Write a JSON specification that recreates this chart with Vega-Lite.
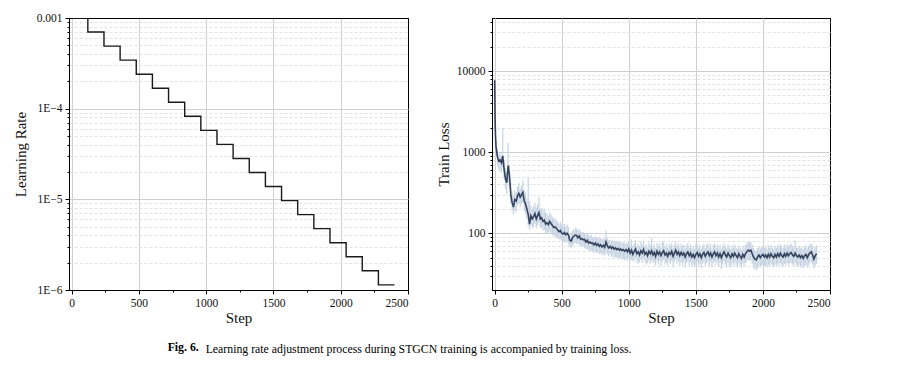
{
  "$schema": "https://vega.github.io/schema/vega-lite/v6.json",
  "background": "white",
  "padding": {"left": 12, "top": 11, "right": 5, "bottom": 5},
  "config": {
    "font": "Liberation Serif",
    "view": {"stroke": "black", "strokeWidth": 1},
    "axis": {
      "labelFont": "Liberation Serif", "labelFontSize": 11.5, "labelColor": "#111111",
      "titleFont": "Liberation Serif", "titleFontSize": 15, "titleFontWeight": "normal", "titleColor": "#111111",
      "domainColor": "black", "tickColor": "black", "gridColor": "#cfcfcf", "gridWidth": 1,
      "tickSize": 4, "labelPadding": 3
    }
  },
  "datasets": {
    "lr": [
      {"s": 0, "v": 0.001},
      {"s": 120, "v": 0.0007},
      {"s": 240, "v": 0.00049},
      {"s": 360, "v": 0.000343},
      {"s": 480, "v": 0.0002401},
      {"s": 600, "v": 0.00016807},
      {"s": 720, "v": 0.000117649},
      {"s": 840, "v": 0.0000823543},
      {"s": 960, "v": 0.000057648},
      {"s": 1080, "v": 0.0000403536},
      {"s": 1200, "v": 0.0000282475},
      {"s": 1320, "v": 0.0000197733},
      {"s": 1440, "v": 0.0000138413},
      {"s": 1560, "v": 0.00000968890},
      {"s": 1680, "v": 0.00000678223},
      {"s": 1800, "v": 0.00000474756},
      {"s": 1920, "v": 0.00000332329},
      {"s": 2040, "v": 0.00000232630},
      {"s": 2160, "v": 0.00000162841},
      {"s": 2280, "v": 0.00000113989},
      {"s": 2400, "v": 0.00000113989}
    ],
    "loss": [
      {"s":0,"v":7700,"lo":5000,"hi":8000},
      {"s":3,"v":2600,"lo":1800,"hi":3200},
      {"s":6,"v":1600,"lo":1200,"hi":2000},
      {"s":10,"v":1150,"lo":900,"hi":1400},
      {"s":20,"v":880,"lo":700,"hi":1100},
      {"s":30,"v":780,"lo":620,"hi":950},
      {"s":40,"v":800,"lo":580,"hi":1000},
      {"s":50,"v":740,"lo":560,"hi":900},
      {"s":60,"v":900,"lo":650,"hi":2000},
      {"s":70,"v":620,"lo":480,"hi":800},
      {"s":80,"v":470,"lo":350,"hi":640},
      {"s":90,"v":420,"lo":300,"hi":560},
      {"s":100,"v":680,"lo":420,"hi":1300},
      {"s":110,"v":520,"lo":380,"hi":700},
      {"s":120,"v":300,"lo":230,"hi":420},
      {"s":130,"v":240,"lo":190,"hi":330},
      {"s":140,"v":210,"lo":170,"hi":290},
      {"s":150,"v":260,"lo":190,"hi":340},
      {"s":160,"v":250,"lo":180,"hi":320},
      {"s":170,"v":290,"lo":220,"hi":380},
      {"s":180,"v":310,"lo":230,"hi":420},
      {"s":190,"v":280,"lo":210,"hi":360},
      {"s":200,"v":300,"lo":230,"hi":390},
      {"s":210,"v":320,"lo":240,"hi":450},
      {"s":220,"v":250,"lo":190,"hi":340},
      {"s":230,"v":230,"lo":170,"hi":320},
      {"s":240,"v":200,"lo":150,"hi":270},
      {"s":250,"v":170,"lo":120,"hi":490},
      {"s":260,"v":130,"lo":110,"hi":250},
      {"s":270,"v":165,"lo":125,"hi":220},
      {"s":280,"v":150,"lo":115,"hi":200},
      {"s":290,"v":160,"lo":120,"hi":215},
      {"s":300,"v":175,"lo":130,"hi":240},
      {"s":310,"v":150,"lo":115,"hi":210},
      {"s":320,"v":165,"lo":125,"hi":230},
      {"s":330,"v":180,"lo":135,"hi":280},
      {"s":340,"v":150,"lo":115,"hi":200},
      {"s":350,"v":155,"lo":118,"hi":205},
      {"s":360,"v":140,"lo":108,"hi":190},
      {"s":370,"v":145,"lo":110,"hi":200},
      {"s":380,"v":130,"lo":100,"hi":180},
      {"s":390,"v":135,"lo":102,"hi":175},
      {"s":400,"v":128,"lo":98,"hi":165},
      {"s":410,"v":140,"lo":105,"hi":180},
      {"s":420,"v":132,"lo":100,"hi":170},
      {"s":430,"v":125,"lo":95,"hi":160},
      {"s":440,"v":118,"lo":92,"hi":150},
      {"s":450,"v":120,"lo":92,"hi":155},
      {"s":460,"v":115,"lo":88,"hi":145},
      {"s":470,"v":110,"lo":86,"hi":140},
      {"s":480,"v":105,"lo":84,"hi":132},
      {"s":490,"v":108,"lo":85,"hi":138},
      {"s":500,"v":100,"lo":80,"hi":128},
      {"s":510,"v":98,"lo":78,"hi":122},
      {"s":520,"v":102,"lo":80,"hi":130},
      {"s":530,"v":96,"lo":76,"hi":120},
      {"s":540,"v":100,"lo":78,"hi":128},
      {"s":550,"v":95,"lo":74,"hi":120},
      {"s":560,"v":82,"lo":68,"hi":100},
      {"s":570,"v":80,"lo":66,"hi":98},
      {"s":580,"v":88,"lo":70,"hi":108},
      {"s":590,"v":92,"lo":74,"hi":112},
      {"s":600,"v":95,"lo":76,"hi":118},
      {"s":610,"v":94,"lo":75,"hi":115},
      {"s":620,"v":88,"lo":72,"hi":110},
      {"s":630,"v":93,"lo":73,"hi":112},
      {"s":640,"v":85,"lo":70,"hi":105},
      {"s":650,"v":86,"lo":68,"hi":102},
      {"s":660,"v":83,"lo":69,"hi":104},
      {"s":670,"v":84,"lo":66,"hi":100},
      {"s":680,"v":78,"lo":64,"hi":97},
      {"s":690,"v":82,"lo":64,"hi":98},
      {"s":700,"v":76,"lo":62,"hi":95},
      {"s":710,"v":78,"lo":61,"hi":93},
      {"s":720,"v":75,"lo":60,"hi":96},
      {"s":730,"v":76,"lo":60,"hi":90},
      {"s":740,"v":72,"lo":57,"hi":89},
      {"s":750,"v":76,"lo":60,"hi":92},
      {"s":760,"v":71,"lo":57,"hi":88},
      {"s":770,"v":74,"lo":58,"hi":90},
      {"s":780,"v":69,"lo":55,"hi":86},
      {"s":790,"v":72,"lo":57,"hi":87},
      {"s":800,"v":68,"lo":54,"hi":85},
      {"s":810,"v":71,"lo":56,"hi":86},
      {"s":820,"v":67,"lo":53,"hi":84},
      {"s":830,"v":78,"lo":58,"hi":108},
      {"s":840,"v":70,"lo":55,"hi":88},
      {"s":850,"v":66,"lo":52,"hi":82},
      {"s":860,"v":69,"lo":55,"hi":84},
      {"s":870,"v":65,"lo":51,"hi":81},
      {"s":880,"v":68,"lo":54,"hi":82},
      {"s":890,"v":64,"lo":50,"hi":80},
      {"s":900,"v":66,"lo":51,"hi":79},
      {"s":910,"v":63,"lo":50,"hi":81},
      {"s":920,"v":65,"lo":50,"hi":78},
      {"s":930,"v":62,"lo":48,"hi":79},
      {"s":940,"v":64,"lo":50,"hi":77},
      {"s":950,"v":61,"lo":47,"hi":78},
      {"s":960,"v":63,"lo":49,"hi":76},
      {"s":970,"v":60,"lo":46,"hi":77},
      {"s":980,"v":63,"lo":48,"hi":75},
      {"s":990,"v":59,"lo":46,"hi":76},
      {"s":1000,"v":64,"lo":50,"hi":80},
      {"s":1010,"v":57,"lo":46,"hi":72},
      {"s":1020,"v":62,"lo":47,"hi":84},
      {"s":1030,"v":55,"lo":45,"hi":70},
      {"s":1040,"v":60,"lo":46,"hi":76},
      {"s":1050,"v":64,"lo":50,"hi":82},
      {"s":1060,"v":56,"lo":44,"hi":70},
      {"s":1070,"v":59,"lo":42,"hi":74},
      {"s":1080,"v":54,"lo":44,"hi":68},
      {"s":1090,"v":61,"lo":47,"hi":79},
      {"s":1100,"v":57,"lo":43,"hi":72},
      {"s":1110,"v":63,"lo":49,"hi":80},
      {"s":1120,"v":55,"lo":44,"hi":69},
      {"s":1130,"v":58,"lo":41,"hi":73},
      {"s":1140,"v":53,"lo":43,"hi":67},
      {"s":1150,"v":60,"lo":46,"hi":77},
      {"s":1160,"v":56,"lo":42,"hi":71},
      {"s":1170,"v":61,"lo":47,"hi":88},
      {"s":1180,"v":54,"lo":43,"hi":68},
      {"s":1190,"v":58,"lo":44,"hi":73},
      {"s":1200,"v":52,"lo":40,"hi":66},
      {"s":1210,"v":60,"lo":46,"hi":76},
      {"s":1220,"v":55,"lo":41,"hi":70},
      {"s":1230,"v":59,"lo":46,"hi":75},
      {"s":1240,"v":53,"lo":39,"hi":67},
      {"s":1250,"v":58,"lo":45,"hi":80},
      {"s":1260,"v":61,"lo":47,"hi":77},
      {"s":1270,"v":54,"lo":41,"hi":68},
      {"s":1280,"v":57,"lo":43,"hi":73},
      {"s":1290,"v":52,"lo":40,"hi":66},
      {"s":1300,"v":58,"lo":45,"hi":74},
      {"s":1310,"v":55,"lo":42,"hi":70},
      {"s":1320,"v":60,"lo":46,"hi":76},
      {"s":1330,"v":52,"lo":38,"hi":66},
      {"s":1340,"v":57,"lo":44,"hi":72},
      {"s":1350,"v":62,"lo":47,"hi":79},
      {"s":1360,"v":55,"lo":42,"hi":70},
      {"s":1370,"v":59,"lo":45,"hi":75},
      {"s":1380,"v":53,"lo":40,"hi":67},
      {"s":1390,"v":58,"lo":44,"hi":74},
      {"s":1400,"v":54,"lo":40,"hi":69},
      {"s":1410,"v":57,"lo":44,"hi":72},
      {"s":1420,"v":51,"lo":38,"hi":65},
      {"s":1430,"v":56,"lo":43,"hi":71},
      {"s":1440,"v":59,"lo":45,"hi":76},
      {"s":1450,"v":53,"lo":40,"hi":67},
      {"s":1460,"v":57,"lo":44,"hi":72},
      {"s":1470,"v":51,"lo":39,"hi":65},
      {"s":1480,"v":55,"lo":42,"hi":70},
      {"s":1490,"v":50,"lo":38,"hi":64},
      {"s":1500,"v":55,"lo":41,"hi":74},
      {"s":1510,"v":58,"lo":44,"hi":73},
      {"s":1520,"v":52,"lo":40,"hi":66},
      {"s":1530,"v":56,"lo":42,"hi":71},
      {"s":1540,"v":50,"lo":37,"hi":64},
      {"s":1550,"v":55,"lo":42,"hi":70},
      {"s":1560,"v":58,"lo":44,"hi":74},
      {"s":1570,"v":52,"lo":40,"hi":66},
      {"s":1580,"v":56,"lo":43,"hi":72},
      {"s":1590,"v":59,"lo":45,"hi":76},
      {"s":1600,"v":53,"lo":39,"hi":67},
      {"s":1610,"v":57,"lo":44,"hi":73},
      {"s":1620,"v":51,"lo":38,"hi":65},
      {"s":1630,"v":56,"lo":43,"hi":71},
      {"s":1640,"v":59,"lo":45,"hi":75},
      {"s":1650,"v":53,"lo":40,"hi":67},
      {"s":1660,"v":57,"lo":44,"hi":72},
      {"s":1670,"v":51,"lo":39,"hi":65},
      {"s":1680,"v":56,"lo":43,"hi":72},
      {"s":1690,"v":50,"lo":36,"hi":64},
      {"s":1700,"v":55,"lo":41,"hi":70},
      {"s":1710,"v":59,"lo":45,"hi":75},
      {"s":1720,"v":54,"lo":41,"hi":69},
      {"s":1730,"v":51,"lo":38,"hi":65},
      {"s":1740,"v":57,"lo":44,"hi":73},
      {"s":1750,"v":53,"lo":40,"hi":67},
      {"s":1760,"v":50,"lo":38,"hi":64},
      {"s":1770,"v":56,"lo":43,"hi":71},
      {"s":1780,"v":52,"lo":40,"hi":66},
      {"s":1790,"v":57,"lo":44,"hi":73},
      {"s":1800,"v":53,"lo":40,"hi":67},
      {"s":1810,"v":50,"lo":38,"hi":64},
      {"s":1820,"v":56,"lo":42,"hi":71},
      {"s":1830,"v":52,"lo":40,"hi":67},
      {"s":1840,"v":49,"lo":37,"hi":63},
      {"s":1850,"v":55,"lo":42,"hi":70},
      {"s":1860,"v":51,"lo":39,"hi":65},
      {"s":1870,"v":56,"lo":43,"hi":72},
      {"s":1880,"v":59,"lo":45,"hi":75},
      {"s":1890,"v":62,"lo":47,"hi":79},
      {"s":1900,"v":60,"lo":46,"hi":77},
      {"s":1910,"v":62,"lo":46,"hi":78},
      {"s":1920,"v":56,"lo":42,"hi":72},
      {"s":1930,"v":51,"lo":38,"hi":66},
      {"s":1940,"v":48,"lo":36,"hi":62},
      {"s":1950,"v":47,"lo":35,"hi":61},
      {"s":1960,"v":51,"lo":37,"hi":66},
      {"s":1970,"v":54,"lo":40,"hi":69},
      {"s":1980,"v":50,"lo":38,"hi":65},
      {"s":1990,"v":53,"lo":40,"hi":68},
      {"s":2000,"v":55,"lo":41,"hi":70},
      {"s":2010,"v":51,"lo":39,"hi":66},
      {"s":2020,"v":54,"lo":40,"hi":69},
      {"s":2030,"v":50,"lo":38,"hi":64},
      {"s":2040,"v":55,"lo":41,"hi":71},
      {"s":2050,"v":51,"lo":39,"hi":66},
      {"s":2060,"v":56,"lo":42,"hi":72},
      {"s":2070,"v":52,"lo":40,"hi":67},
      {"s":2080,"v":50,"lo":38,"hi":64},
      {"s":2090,"v":55,"lo":41,"hi":70},
      {"s":2100,"v":51,"lo":39,"hi":66},
      {"s":2110,"v":56,"lo":42,"hi":72},
      {"s":2120,"v":52,"lo":40,"hi":67},
      {"s":2130,"v":57,"lo":43,"hi":74},
      {"s":2140,"v":53,"lo":40,"hi":69},
      {"s":2150,"v":51,"lo":39,"hi":66},
      {"s":2160,"v":56,"lo":42,"hi":72},
      {"s":2170,"v":52,"lo":40,"hi":67},
      {"s":2180,"v":57,"lo":43,"hi":73},
      {"s":2190,"v":53,"lo":40,"hi":68},
      {"s":2200,"v":56,"lo":42,"hi":72},
      {"s":2210,"v":58,"lo":43,"hi":75},
      {"s":2220,"v":54,"lo":41,"hi":69},
      {"s":2230,"v":52,"lo":40,"hi":67},
      {"s":2240,"v":57,"lo":43,"hi":82},
      {"s":2250,"v":53,"lo":40,"hi":68},
      {"s":2260,"v":51,"lo":39,"hi":66},
      {"s":2270,"v":54,"lo":41,"hi":69},
      {"s":2280,"v":50,"lo":38,"hi":65},
      {"s":2290,"v":53,"lo":40,"hi":68},
      {"s":2300,"v":49,"lo":37,"hi":63},
      {"s":2310,"v":53,"lo":40,"hi":68},
      {"s":2320,"v":55,"lo":41,"hi":71},
      {"s":2330,"v":50,"lo":38,"hi":65},
      {"s":2340,"v":54,"lo":40,"hi":69},
      {"s":2350,"v":57,"lo":43,"hi":73},
      {"s":2360,"v":59,"lo":44,"hi":75},
      {"s":2370,"v":54,"lo":41,"hi":70},
      {"s":2380,"v":48,"lo":37,"hi":63},
      {"s":2390,"v":53,"lo":40,"hi":68},
      {"s":2400,"v":56,"lo":42,"hi":71}
    ]
  },
  "title": {"text": "Fig. 6.", "orient": "bottom", "anchor": "start", "fontWeight": "bold", "fontSize": 11.8, "font": "Liberation Serif", "color": "black", "offset": -14, "dx": 155},
  "vconcat": [
    {
      "title": {"text": "Learning rate adjustment process during STGCN training is accompanied by training loss.", "orient": "bottom", "anchor": "start", "fontWeight": "normal", "fontSize": 11.8, "font": "Liberation Serif", "color": "black", "offset": 18, "dx": 193},
      "spacing": 84,
      "bounds": "flush",
      "hconcat": [
        {
          "width": 339, "height": 272,
          "data": {"name": "lr"},
          "layer": [
            {
              "mark": {"type": "line", "interpolate": "step-after", "color": "#1a1a1a", "strokeWidth": 1.4, "clip": true},
              "encoding": {
                "x": {"field": "s", "type": "quantitative", "scale": {"domain": [-20, 2500], "nice": false, "zero": false},
                      "axis": {"values": [0, 500, 1000, 1500, 2000, 2500], "format": "d", "title": "Step", "grid": true, "titlePadding": 2, "orient": "bottom",
                               "gridColor": {"condition": {"test": "datum.value >= 2500", "value": "black"}, "value": "#cfcfcf"}}},
                "y": {"field": "v", "type": "quantitative", "scale": {"type": "log", "domain": [0.000001, 0.001], "nice": false},
                      "axis": {"values": [0.000001, 0.00001, 0.0001, 0.001], "title": "Learning Rate", "grid": true, "titlePadding": 8, "orient": "left",
                               "gridColor": {"condition": {"test": "datum.value >= 0.0009 || datum.value <= 0.0000011", "value": "black"}, "value": "#cfcfcf"},
                               "labelExpr": "datum.value < 0.000002 ? '1E\u22126' : datum.value < 0.00002 ? '1E\u22125' : datum.value < 0.0002 ? '1E\u22124' : '0.001'"}}
              }
            },
            {
              "mark": {"type": "point", "opacity": 0},
              "encoding": {
                "x": {"field": "s", "type": "quantitative", "scale": {"domain": [-20, 2500], "nice": false, "zero": false},
                      "axis": {"values": [250, 750, 1250, 1750, 2250], "labels": false, "grid": false, "domain": false, "tickSize": 2, "title": null, "orient": "bottom"}},
                "y": {"field": "v", "type": "quantitative", "scale": {"type": "log", "domain": [0.000001, 0.001], "nice": false},
                      "axis": {"values": [0.000002, 0.000003, 0.000004, 0.000005, 0.000006, 0.000007, 0.000008, 0.000009, 0.00002, 0.00003, 0.00004, 0.00005, 0.00006, 0.00007, 0.00008, 0.00009, 0.0002, 0.0003, 0.0004, 0.0005, 0.0006, 0.0007, 0.0008, 0.0009],
                               "labels": false, "grid": true, "gridDash": [3, 2], "gridColor": "#e2e2e2", "domain": false, "tickSize": 2, "title": null, "orient": "left"}}
              }
            }
          ],
          "resolve": {"axis": {"x": "independent", "y": "independent"}}
        },
        {
          "width": 338, "height": 272,
          "data": {"name": "loss"},
          "layer": [
            {
              "mark": {"type": "rule", "color": "#c6d3e2", "strokeWidth": 1.2, "clip": true},
              "encoding": {
                "x": {"field": "s", "type": "quantitative", "scale": {"domain": [-20, 2500], "nice": false, "zero": false},
                      "axis": {"values": [0, 500, 1000, 1500, 2000, 2500], "format": "d", "title": "Step", "grid": true, "titlePadding": 2, "orient": "bottom",
                               "gridColor": {"condition": {"test": "datum.value >= 2500", "value": "black"}, "value": "#cfcfcf"}}},
                "y": {"field": "lo", "type": "quantitative", "scale": {"type": "log", "domain": [20, 45000], "nice": false},
                      "axis": {"values": [100, 1000, 10000], "format": "d", "title": "Train Loss", "grid": true, "titlePadding": 5, "orient": "left"}},
                "y2": {"field": "hi"}
              }
            },
            {
              "mark": {"type": "line", "color": "#34435e", "strokeWidth": 1.6, "clip": true},
              "encoding": {
                "x": {"field": "s", "type": "quantitative", "scale": {"domain": [-20, 2500], "nice": false, "zero": false}, "axis": null},
                "y": {"field": "v", "type": "quantitative", "scale": {"type": "log", "domain": [20, 45000], "nice": false}, "axis": null}
              }
            },
            {
              "mark": {"type": "point", "opacity": 0},
              "encoding": {
                "x": {"field": "s", "type": "quantitative", "scale": {"domain": [-20, 2500], "nice": false, "zero": false},
                      "axis": {"values": [250, 750, 1250, 1750, 2250], "labels": false, "grid": false, "domain": false, "tickSize": 2, "title": null, "orient": "bottom"}},
                "y": {"field": "v", "type": "quantitative", "scale": {"type": "log", "domain": [20, 45000], "nice": false},
                      "axis": {"values": [30, 40, 50, 60, 70, 80, 90, 200, 300, 400, 500, 600, 700, 800, 900, 2000, 3000, 4000, 5000, 6000, 7000, 8000, 9000, 20000, 30000, 40000],
                               "labels": false, "grid": true, "gridDash": [3, 2], "gridColor": "#e2e2e2", "domain": false, "tickSize": 2, "title": null, "orient": "left"}}
              }
            }
          ],
          "resolve": {"axis": {"x": "independent", "y": "independent"}}
        }
      ]
    }
  ]
}
